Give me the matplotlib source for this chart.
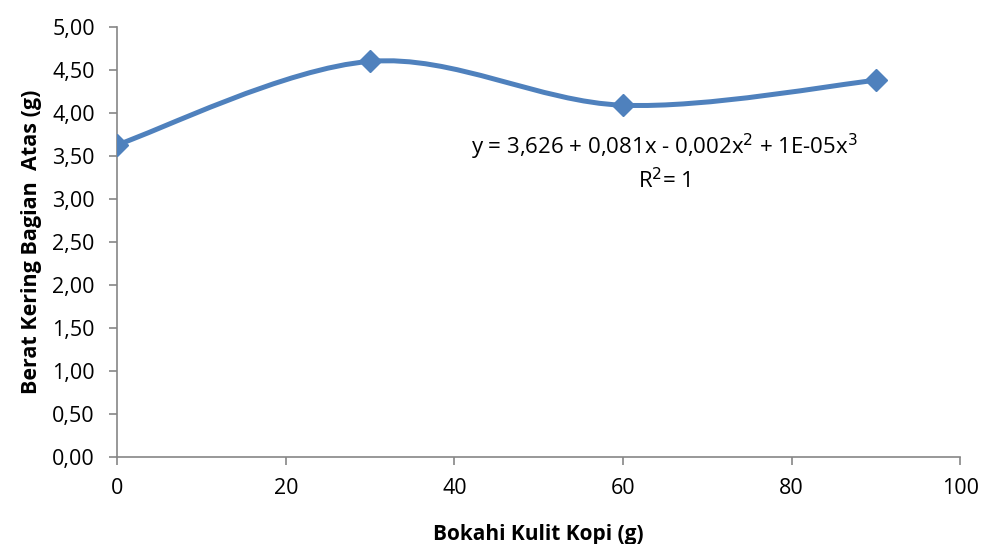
import numpy as np
import matplotlib.pyplot as plt
from matplotlib.path import Path
from matplotlib.patches import PathPatch

plt.rcParams['font.family'] = ['Open Sans', 'DejaVu Sans']

# data
bokashi = [0, 30, 60, 90]
berat = [3.63, 4.60, 4.09, 4.38]

xticks = [0, 20, 40, 60, 80, 100]
yticks = [0, 0.5, 1.0, 1.5, 2.0, 2.5, 3.0, 3.5, 4.0, 4.5, 5.0]
equation = "y = 3,626 + 0,081x - 0,002x$^2$ + 1E-05x$^3$"
r2_text = "R$^2$= 1"

color = '#4F81BD'
axis_color = '#868686'


def smooth_path(xs, ys):
    # Excel-style smoothed line: cubic bezier segments with catmull-rom control points
    pts = np.column_stack([xs, ys]).astype(float)
    n = len(pts)
    verts = [pts[0]]
    codes = [Path.MOVETO]
    for i in range(n - 1):
        p0 = pts[i - 1] if i > 0 else pts[i]
        p1 = pts[i]
        p2 = pts[i + 1]
        p3 = pts[i + 2] if i + 2 < n else pts[i + 1]
        c1 = p1 + (p2 - p0) / 6.0
        c2 = p2 - (p3 - p1) / 6.0
        verts += [c1, c2, p2]
        codes += [Path.CURVE4] * 3
    return Path(verts, codes)


fig = plt.figure(figsize=(9.84, 5.44), dpi=100)
ax = fig.add_axes([0.119, 0.16, 0.857, 0.7904])

ax.add_patch(PathPatch(smooth_path(bokashi, berat), facecolor='none',
                       edgecolor=color, lw=3.6, capstyle='round', zorder=2))
ax.plot(bokashi, berat, linestyle='none', marker='D', markersize=11.5,
        color=color, zorder=3)

ax.set_xlim(0, 100)
ax.set_ylim(0, 5)
ax.set_xticks(xticks)
ax.set_yticks(yticks)
ax.set_yticklabels([f"{v:.2f}".replace('.', ',') for v in yticks])

for side in ['top', 'right']:
    ax.spines[side].set_visible(False)
for side in ['left', 'bottom']:
    ax.spines[side].set_color(axis_color)
    ax.spines[side].set_linewidth(1.2)
ax.tick_params(axis='both', direction='out', length=6, width=1.2,
               color=axis_color, labelsize=15.5, labelcolor='black')
ax.tick_params(axis='x', pad=9)
ax.tick_params(axis='y', pad=10)

ax.set_xlabel('Bokahi Kulit Kopi (g)', fontsize=15, fontweight='bold', labelpad=18)
ax.set_ylabel('Berat Kering Bagian  Atas (g)', fontsize=15.5, fontweight='bold', labelpad=7)

ax.text(0.649, 0.721, equation, transform=ax.transAxes, ha='center', va='center',
        fontsize=16)
ax.text(0.649, 0.642, r2_text, transform=ax.transAxes, ha='center', va='center',
        fontsize=16)

fig.savefig('out.png', dpi=100)
